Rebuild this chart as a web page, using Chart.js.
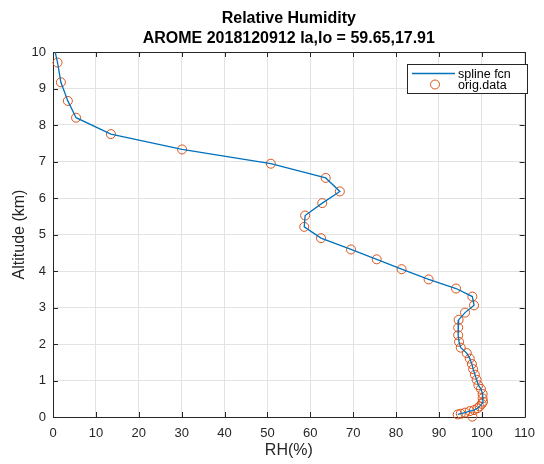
<!DOCTYPE html>
<html>
<head>
<meta charset="utf-8">
<script src="https://cdn.jsdelivr.net/npm/chart.js@4"></script>
<style>
  html, body { margin: 0; padding: 0; background: #ffffff; }
  #wrap { width: 544px; height: 464px; }
</style>
</head>
<body>
<div id="wrap"><canvas id="c" width="544" height="464"></canvas></div>
<script>
// Model-level relative humidity profile
const rh = [1.06, 1.84, 3.46, 5.38, 13.5, 30.1, 50.8, 63.6, 66.9, 62.8, 58.8, 58.6, 62.5,
  69.5, 75.5, 81.3, 87.6, 94.0, 97.8, 98.2, 96.1, 94.6, 94.5, 94.5, 94.7, 95.1, 96.5,
  97.2, 97.7, 98.0, 98.4, 98.8, 99.2, 99.8, 100.2, 100.2, 100.3, 100.0, 99.5, 99.0,
  98.2, 97.2, 96.1, 95.1, 94.4, 97.8];
const altitude = [9.71, 9.17, 8.66, 8.20, 7.75, 7.33, 6.94, 6.55, 6.18, 5.86, 5.52, 5.21, 4.90,
  4.59, 4.32, 4.05, 3.77, 3.52, 3.30, 3.06, 2.86, 2.66, 2.45, 2.24, 2.06, 1.90, 1.75,
  1.60, 1.45, 1.31, 1.16, 1.02, 0.87, 0.77, 0.63, 0.51, 0.42, 0.36, 0.29, 0.24,
  0.19, 0.16, 0.12, 0.09, 0.07, 0.01];
// Spline curve: same levels, continued up to the top of the axis
const splineRh = [0.5].concat(rh.slice(0, rh.length - 1));
const splineAlt = [10].concat(altitude.slice(0, altitude.length - 1));

const xTicks = [0, 10, 20, 30, 40, 50, 60, 70, 80, 90, 100, 110];
const yTicks = [0, 1, 2, 3, 4, 5, 6, 7, 8, 9, 10];
const titleLines = ['Relative Humidity', 'AROME 2018120912 la,lo = 59.65,17.91'];
const legendLabels = ['spline fcn', 'orig.data'];

const BLUE = '#0072BD';
const ORANGE = '#D95319';
const AXIS = '#262626';
const GRID = '#e3e3e3';
const FONT = '"Liberation Sans", Arial, Helvetica, sans-serif';

const toPoints = (xs, ys) => xs.map((x, i) => ({ x: x, y: ys[i] }));

// Axes box with inward ticks, title centred over the axes, and legend
const boxPlugin = {
  id: 'box',
  beforeDatasetsDraw(chart) {
    const { ctx, chartArea: a, scales: { x, y } } = chart;
    ctx.save();
    ctx.strokeStyle = AXIS;
    ctx.lineWidth = 1;
    ctx.beginPath();
    ctx.rect(Math.round(a.left) + 0.5, Math.round(a.top) + 0.5,
      Math.round(a.right - a.left), Math.round(a.bottom - a.top));
    ctx.stroke();
    const len = 5;
    ctx.beginPath();
    xTicks.forEach(v => {
      const px = Math.round(x.getPixelForValue(v)) + 0.5;
      ctx.moveTo(px, a.bottom); ctx.lineTo(px, a.bottom - len);
      ctx.moveTo(px, a.top); ctx.lineTo(px, a.top + len);
    });
    yTicks.forEach(v => {
      const py = Math.round(y.getPixelForValue(v)) + 0.5;
      ctx.moveTo(a.left, py); ctx.lineTo(a.left + len, py);
      ctx.moveTo(a.right, py); ctx.lineTo(a.right - len, py);
    });
    ctx.stroke();
    ctx.restore();
  },
  afterDraw(chart) {
    const { ctx, chartArea: a } = chart;
    ctx.save();
    // title
    const cx = (a.left + a.right) / 2;
    ctx.fillStyle = '#000000';
    ctx.font = 'bold 16px ' + FONT;
    ctx.textAlign = 'center';
    ctx.textBaseline = 'middle';
    ctx.fillText(titleLines[0], cx, 18.5);
    ctx.fillText(titleLines[1], cx, 39);
    // legend
    const L = 407, T = 64, W = 120, H = 29;
    ctx.fillStyle = '#ffffff';
    ctx.fillRect(L, T, W, H);
    ctx.strokeStyle = AXIS;
    ctx.lineWidth = 1;
    ctx.strokeRect(L + 0.5, T + 0.5, W, H);
    ctx.strokeStyle = BLUE;
    ctx.lineWidth = 1.3;
    ctx.beginPath();
    ctx.moveTo(412, 73.5); ctx.lineTo(455, 73.5);
    ctx.stroke();
    ctx.lineWidth = 1;
    ctx.strokeStyle = ORANGE;
    ctx.beginPath();
    ctx.arc(435, 84.5, 4.5, 0, Math.PI * 2);
    ctx.stroke();
    ctx.fillStyle = '#000000';
    ctx.font = '12.5px ' + FONT;
    ctx.textAlign = 'left';
    ctx.fillText(legendLabels[0], 458, 74.5);
    ctx.fillText(legendLabels[1], 458, 85.5);
    ctx.restore();
  }
};

new Chart(document.getElementById('c'), {
  type: 'scatter',
  data: {
    datasets: [
      {
        label: legendLabels[1],
        data: toPoints(rh, altitude),
        showLine: false,
        pointStyle: 'circle',
        pointRadius: 4.5,
        pointBorderWidth: 1,
        pointBorderColor: ORANGE,
        pointBackgroundColor: 'rgba(0,0,0,0)',
        clip: false,
        order: 2
      },
      {
        label: legendLabels[0],
        data: toPoints(splineRh, splineAlt),
        showLine: true,
        borderColor: BLUE,
        borderWidth: 1.3,
        pointRadius: 0,
        tension: 0,
        order: 1
      }
    ]
  },
  options: {
    responsive: false,
    animation: false,
    layout: { padding: { left: 0, right: 14, top: 52, bottom: 0 } },
    plugins: {
      legend: { display: false },
      tooltip: { enabled: false },
      title: { display: false }
    },
    scales: {
      x: {
        type: 'linear',
        min: 0, max: 110,
        afterFit(s) { s.height = 47; },
        afterBuildTicks(s) { s.ticks = xTicks.map(v => ({ value: v })); },
        ticks: { color: AXIS, font: { family: FONT, size: 13 }, padding: 9, maxRotation: 0 },
        grid: { color: GRID, drawTicks: false, lineWidth: 1 },
        border: { display: false },
        title: { display: true, text: 'RH(%)', color: AXIS, font: { family: FONT, size: 16 }, padding: { top: 0, bottom: 4 } }
      },
      y: {
        type: 'linear',
        min: 0, max: 10,
        afterFit(s) { s.width = 53; },
        afterBuildTicks(s) { s.ticks = yTicks.map(v => ({ value: v })); },
        ticks: { color: AXIS, font: { family: FONT, size: 13 }, padding: 7 },
        grid: { color: GRID, drawTicks: false, lineWidth: 1 },
        border: { display: false },
        title: { display: true, text: 'Altitude (km)', color: AXIS, font: { family: FONT, size: 16 }, padding: { top: 10, bottom: 0 } }
      }
    }
  },
  plugins: [boxPlugin]
});
</script>
</body>
</html>
